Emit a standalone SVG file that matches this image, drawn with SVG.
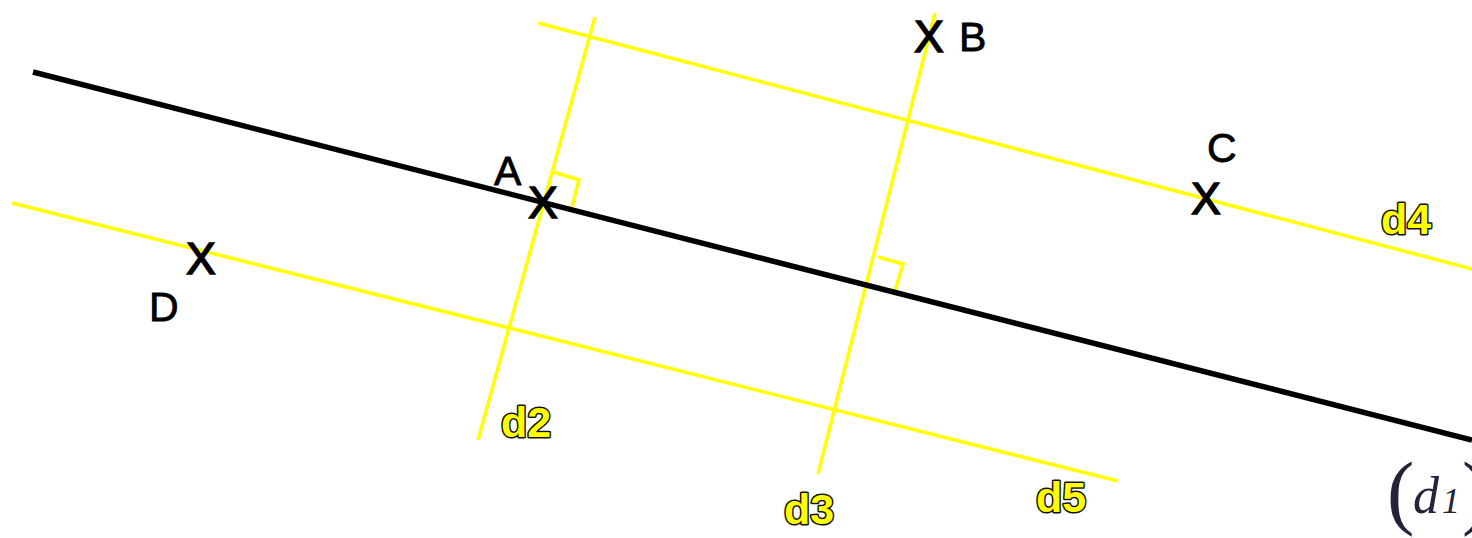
<svg xmlns="http://www.w3.org/2000/svg" width="1472" height="538" viewBox="0 0 1472 538">
<style>
.yl{stroke:#ffff00;stroke-width:3.5;fill:none;stroke-linecap:butt}
.bl{stroke:#000;stroke-width:5.5;fill:none;stroke-linecap:butt}
.pt{font-family:"Liberation Sans",Arial,sans-serif;font-size:44px;fill:#000;text-anchor:middle;stroke:#000;stroke-width:1.6}
.lt{font-family:"Liberation Sans",Arial,sans-serif;font-size:41px;fill:#000;stroke:#000;stroke-width:0.8}
.dl{font-family:"Liberation Sans",Arial,sans-serif;font-size:43px;font-weight:bold;fill:#ffff00;stroke:#111;stroke-width:3;paint-order:stroke;stroke-linejoin:round}
.math{font-family:"Liberation Serif","Times New Roman",serif;font-style:italic;fill:#23233a}
.par{font-style:normal;font-size:82px}
</style>
<rect width="1472" height="538" fill="#fff"/>
<g id="connectors">
<line id="d4" class="yl" x1="538" y1="23" x2="1472" y2="269"/>
<line id="d5" class="yl" x1="12" y1="203" x2="1118" y2="481"/>
<line id="d2" class="yl" x1="595" y1="17" x2="478" y2="440"/>
<line id="d3" class="yl" x1="935" y1="13" x2="818" y2="474"/>
<polyline class="yl" points="553,172 579,180 571,210"/>
<polyline class="yl" points="878,257 903,264 895,291"/>
<line id="d1" class="bl" x1="33" y1="72" x2="1472" y2="440"/>
</g>
<g id="pointA"><text class="pt" x="543" y="218">X</text><text class="lt" x="494" y="185">A</text></g>
<g id="pointB"><text class="pt" x="929" y="52">X</text><text class="lt" x="959" y="51">B</text></g>
<g id="pointC"><text class="pt" x="1206" y="214">X</text><text class="lt" x="1207" y="162">C</text></g>
<g id="pointD"><text class="pt" x="201" y="274">X</text><text class="lt" x="149" y="321">D</text></g>
<g id="labels">
<text class="dl" x="501" y="437">d2</text>
<text class="dl" x="784" y="524">d3</text>
<text class="dl" x="1381" y="234">d4</text>
<text class="dl" x="1036" y="512">d5</text>
</g>
<g id="labelD1">
<text class="math" y="519"><tspan class="par" x="1387">(</tspan><tspan x="1413" y="513" font-size="52">d</tspan><tspan x="1442" y="513" font-size="36">1</tspan><tspan class="par" x="1462" y="519">)</tspan></text>
</g>
</svg>
